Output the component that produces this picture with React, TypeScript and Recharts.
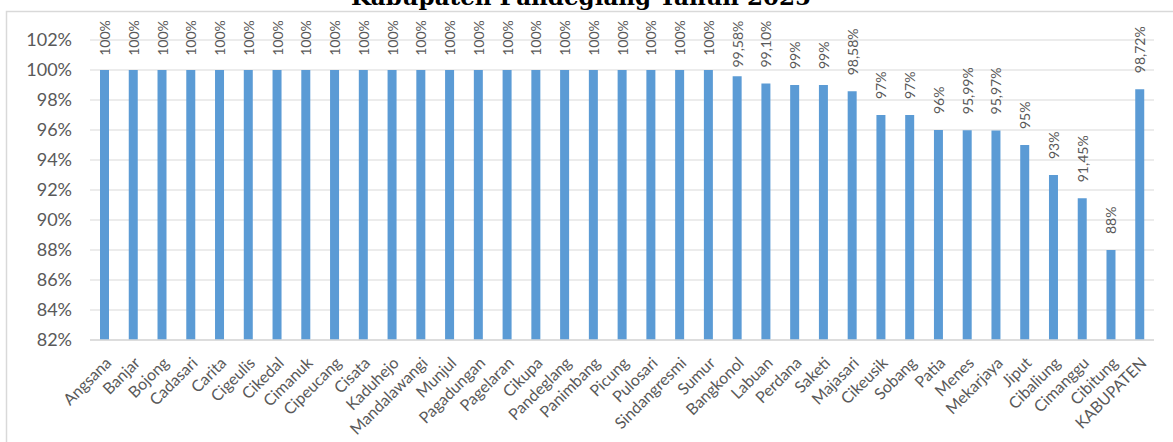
import { Bar, BarChart, CartesianGrid, LabelList, XAxis, YAxis } from 'recharts'

const kecamatan = [
  'Angsana', 'Banjar', 'Bojong', 'Cadasari', 'Carita', 'Cigeulis', 'Cikedal', 'Cimanuk',
  'Cipeucang', 'Cisata', 'Kaduhejo', 'Mandalawangi', 'Munjul', 'Pagadungan', 'Pagelaran',
  'Cikupa', 'Pandeglang', 'Panimbang', 'Picung', 'Pulosari', 'Sindangresmi', 'Sumur',
  'Bangkonol', 'Labuan', 'Perdana', 'Saketi', 'Majasari', 'Cikeusik', 'Sobang', 'Patia',
  'Menes', 'Mekarjaya', 'Jiput', 'Cibaliung', 'Cimanggu', 'Cibitung', 'KABUPATEN',
]

const persen = [
  100, 100, 100, 100, 100, 100, 100, 100,
  100, 100, 100, 100, 100, 100, 100,
  100, 100, 100, 100, 100, 100, 100,
  99.58, 99.1, 99, 99, 98.58, 97, 97, 96,
  95.99, 95.97, 95, 93, 91.45, 88, 98.72,
]

const yTicks = [82, 84, 86, 88, 90, 92, 94, 96, 98, 100, 102]

const title = 'Kabupaten Pandeglang Tahun 2025'

const data = kecamatan.map((name, i) => ({ name, value: persen[i] }))

const FONT = 'Lato, "Open Sans", sans-serif'
const TEXT = '#595959'

const fmt = (v: number) =>
  Number.isInteger(v) ? `${v}%` : `${v.toFixed(2).replace('.', ',')}%`

const LABEL_FS = 14

function textLen(s: string) {
  let w = 0
  for (const c of s) w += c === ',' ? 0.26 : c === '%' ? 0.82 : 0.58
  return w * LABEL_FS
}

function ValueLabel(props: any) {
  const { x, y, width, value } = props
  const s = fmt(Number(value))
  const cx = Number(x) + Number(width) / 2
  const len = textLen(s)
  // excel keeps rotated labels inside the plot area, so clamp near the top
  const bottom = Math.max(Number(y) - 16, 20 + len)
  return (
    <text
      x={cx}
      y={bottom}
      transform={`rotate(-90 ${cx} ${bottom})`}
      textAnchor='start'
      dominantBaseline='central'
      fontSize={LABEL_FS}
      fontFamily={FONT}
      fill={TEXT}
    >
      {s}
    </text>
  )
}

function XTick(props: any) {
  const { x, y, payload } = props
  return (
    <g transform={`translate(${x + 8},${y + 16})`}>
      <text
        textAnchor='end'
        transform='rotate(-45)'
        fontSize={16}
        fontFamily={FONT}
        fill={TEXT}
      >
        {payload.value}
      </text>
    </g>
  )
}

export default function App() {
  return (
    <div style={{ position: 'fixed', left: 0, top: 0, width: 1173, height: 442, background: '#fff' }}>
      <svg width={1173} height={442} style={{ position: 'absolute', left: 0, top: 0 }}>
        <rect x={6.5} y={11.5} width={1180} height={460} fill='none' stroke='#d9d9d9' strokeWidth={1.5} />
        <text
          x={581}
          y={5}
          textAnchor='middle'
          fontFamily='"DejaVu Serif", "Liberation Serif", serif'
          fontWeight='bold'
          fontSize={23}
          fill='#000'
        >
          {title}
        </text>
      </svg>
      <div style={{ position: 'absolute', left: 0, top: 0 }}>
        <BarChart
          width={1173}
          height={442}
          data={data}
          margin={{ top: 40, right: 19, bottom: 0, left: 0 }}
        >
          <CartesianGrid vertical={false} stroke='#d9d9d9' strokeWidth={1.2} />
          <XAxis
            dataKey='name'
            interval={0}
            height={102}
            tickLine={false}
            axisLine={{ stroke: '#d9d9d9', strokeWidth: 1.5 }}
            tick={<XTick />}
          />
          <YAxis
            width={90}
            domain={[82, 102]}
            ticks={yTicks}
            allowDataOverflow
            tickLine={false}
            axisLine={false}
            tickMargin={12}
            tickFormatter={(v) => `${v}%`}
            tick={{ fontSize: 18, fontFamily: FONT, fill: TEXT }}
          />
          <Bar dataKey='value' fill='#5b9bd5' barSize={9} isAnimationActive={false}>
            <LabelList dataKey='value' content={<ValueLabel />} />
          </Bar>
        </BarChart>
      </div>
    </div>
  )
}
